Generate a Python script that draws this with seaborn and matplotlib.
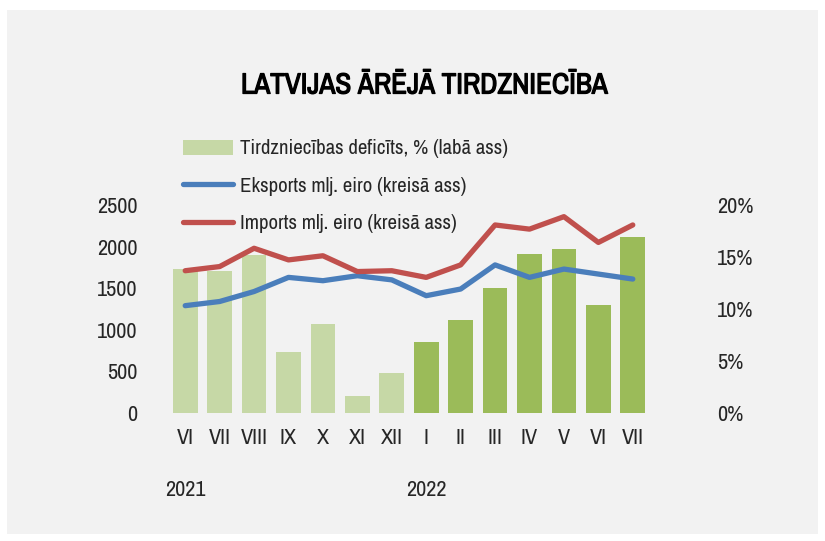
import numpy as np
import pandas as pd
import matplotlib
matplotlib.use("Agg")
import matplotlib.pyplot as plt
import matplotlib.font_manager as fm
import matplotlib.patheffects as pe
import seaborn as sns
from matplotlib.patches import Rectangle, Patch
from matplotlib.lines import Line2D
from matplotlib.ticker import FuncFormatter

# ---- data ----
months = ["VI", "VII", "VIII", "IX", "X", "XI", "XII",
          "I", "II", "III", "IV", "V", "VI", "VII"]
years = ["2021"] * 7 + ["2022"] * 7
deficit = [13.8, 13.7, 15.2, 5.9, 8.6, 1.6, 3.8, 6.8, 8.9, 12.0, 15.3, 15.8, 10.4, 16.9]
exports = [1290, 1340, 1460, 1630, 1590, 1650, 1600, 1410, 1490, 1780, 1630, 1730, 1670, 1610]
imports = [1710, 1760, 1980, 1840, 1890, 1700, 1710, 1630, 1780, 2260, 2210, 2360, 2050, 2260]

year_labels = {"2021": 0, "2022": 7}

df = pd.DataFrame({"pos": np.arange(len(months)), "month": months, "year": years,
                   "deficit": deficit, "exports": exports, "imports": imports})

sns.set_theme(style="white")

# the original uses a condensed face; take one if any is installed
narrow = [f.name for f in fm.fontManager.ttflist
          if "condensed" in str(f.stretch) or "Narrow" in f.name or "Condensed" in f.name]
family = ["DejaVu Sans"]
if narrow:
    family = [sorted(set(narrow))[0], "DejaVu Sans"]
    plt.rcParams["font.stretch"] = "condensed"
plt.rcParams["font.family"] = family

BG = "#f2f2f2"
LIGHT = "#c6d8a6"
DARK = "#9bbb59"
BLUE = "#4a7ebb"
RED = "#c0504d"
TXT = "#262626"

fig = plt.figure(figsize=(8.25, 5.41), dpi=100)
fig.patch.set_facecolor("white")
fig.patches.append(Rectangle((7 / 825, 7 / 541), 811 / 825, 524 / 541,
                             transform=fig.transFigure, facecolor=BG,
                             edgecolor="none", zorder=-5))

ax = fig.add_axes([168 / 825, 128 / 541, 482 / 825, 208 / 541])
ax2 = ax.twinx()

# bars on the right axis (percent)
sns.barplot(data=df, x="pos", y="deficit", hue="year",
            palette={"2021": LIGHT, "2022": DARK}, dodge=False,
            width=0.72, legend=False, saturation=1, linewidth=0, ax=ax2)

# lines on the left axis
sns.lineplot(data=df, x="pos", y="exports", color=BLUE, lw=3.8,
             solid_capstyle="round", ax=ax)
sns.lineplot(data=df, x="pos", y="imports", color=RED, lw=3.8,
             solid_capstyle="round", ax=ax)

ax.set_zorder(ax2.get_zorder() + 1)
ax.patch.set_visible(False)
ax2.patch.set_visible(False)

for a in (ax, ax2):
    a.set_xlim(-0.5, 13.5)
    for s in a.spines.values():
        s.set_visible(False)
    a.set_xlabel("")
    a.set_ylabel("")
    a.grid(False)

ax.set_ylim(0, 2500)
ax.set_yticks([0, 500, 1000, 1500, 2000, 2500])
ax2.set_ylim(0, 20)
ax2.set_yticks([0, 5, 10, 15, 20])
ax2.yaxis.set_major_formatter(FuncFormatter(lambda v, p: f"{v:.0f}%"))

ax.set_xticks(df["pos"])
ax.set_xticklabels(months)
ax.tick_params(axis="x", length=0, pad=11, labelsize=16, labelcolor=TXT)
ax.tick_params(axis="y", length=0, pad=22, labelsize=16, labelcolor=TXT)
ax2.tick_params(axis="y", length=0, pad=48, labelsize=16, labelcolor=TXT)
ax2.tick_params(axis="x", length=0, labelbottom=False)
for lab in ax2.get_yticklabels():
    lab.set_horizontalalignment("left")

for yr, p in year_labels.items():
    ax.text(p, -0.37, yr, transform=ax.get_xaxis_transform(),
            ha="center", va="center", fontsize=16, color=TXT)

# title is semibold in the original; a thin stroke thickens the condensed face
fig.text(424 / 825, 1 - 85 / 541, "LATVIJAS ĀRĒJĀ TIRDZNIECĪBA",
         ha="center", va="center", fontsize=21, fontweight="bold", color="black",
         path_effects=[pe.withStroke(linewidth=0.9, foreground="black")])

handles = [Patch(facecolor=LIGHT, edgecolor="none"),
           Line2D([0], [0], color=BLUE, lw=3.8, solid_capstyle="round"),
           Line2D([0], [0], color=RED, lw=3.8, solid_capstyle="round")]
labels = ["Tirdzniecības deficīts, % (labā ass)",
          "Eksports mlj. eiro (kreisā ass)",
          "Imports mlj. eiro (kreisā ass)"]
fig.legend(handles, labels, loc="upper left", bbox_to_anchor=(173 / 825, 1 - 129 / 541),
           frameon=False, fontsize=15, handlelength=2.4, handleheight=0.75,
           handletextpad=0.3, labelspacing=0.88, borderpad=0, labelcolor=TXT)

fig.savefig("out.png", dpi=100, facecolor=fig.get_facecolor())
